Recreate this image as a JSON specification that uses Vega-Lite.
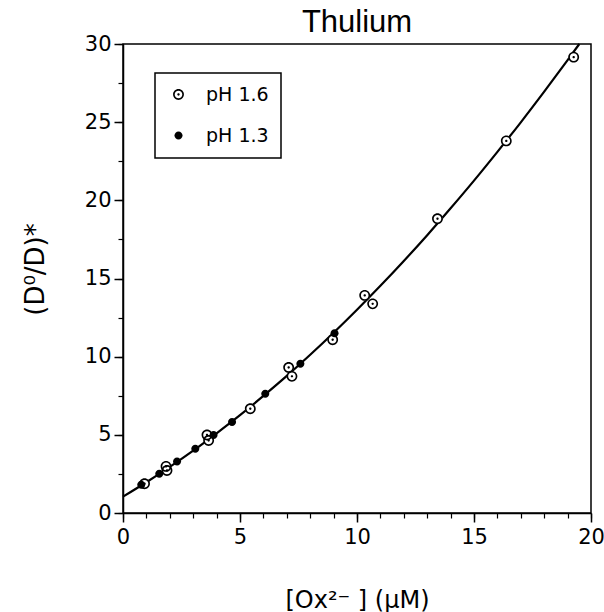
{
  "$schema": "https://vega.github.io/schema/vega-lite/v6.json",
  "width": 468,
  "height": 469,
  "autosize": "none",
  "padding": {"left": 123, "top": 44, "right": 13, "bottom": 99},
  "background": "white",
  "title": {"text": "Thulium", "font": "Liberation Sans", "fontSize": 31, "fontWeight": "normal", "color": "black", "anchor": "middle", "baseline": "bottom", "offset": 2, "dy": 39},
  "config": {
    "view": {"stroke": "black", "strokeWidth": 1.5},
    "axis": {"grid": false, "domainColor": "black", "tickColor": "black", "labelColor": "black", "titleColor": "black", "labelFont": "DejaVu Sans", "titleFont": "DejaVu Sans", "titleFontWeight": "normal"},
    "legend": {"strokeWidth": 1.5}
  },
  "datasets": {
    "curve": [
      {"x": 0, "y": 1.05}, {"x": 1, "y": 1.97}, {"x": 2, "y": 2.95}, {"x": 3, "y": 3.99},
      {"x": 4, "y": 5.1}, {"x": 5, "y": 6.26}, {"x": 6, "y": 7.49}, {"x": 7, "y": 8.77},
      {"x": 8, "y": 10.12}, {"x": 9, "y": 11.53}, {"x": 10, "y": 13.0}, {"x": 11, "y": 14.53},
      {"x": 12, "y": 16.12}, {"x": 13, "y": 17.77}, {"x": 14, "y": 19.49}, {"x": 15, "y": 21.26},
      {"x": 16, "y": 23.1}, {"x": 17, "y": 24.99}, {"x": 18, "y": 26.95}, {"x": 19, "y": 28.97},
      {"x": 19.5, "y": 30.0}
    ],
    "points": [
      {"series": "pH 1.3", "x": 0.78, "y": 1.81},
      {"series": "pH 1.3", "x": 1.55, "y": 2.51},
      {"series": "pH 1.3", "x": 2.31, "y": 3.3},
      {"series": "pH 1.3", "x": 3.09, "y": 4.11},
      {"series": "pH 1.3", "x": 3.87, "y": 4.99},
      {"series": "pH 1.3", "x": 4.66, "y": 5.82},
      {"series": "pH 1.3", "x": 6.08, "y": 7.63},
      {"series": "pH 1.3", "x": 7.58, "y": 9.55},
      {"series": "pH 1.3", "x": 9.04, "y": 11.5},
      {"series": "pH 1.6", "x": 0.92, "y": 1.87},
      {"series": "pH 1.6", "x": 1.88, "y": 2.72},
      {"series": "pH 1.6", "x": 1.84, "y": 2.98},
      {"series": "pH 1.6", "x": 3.59, "y": 4.99},
      {"series": "pH 1.6", "x": 3.66, "y": 4.64},
      {"series": "pH 1.6", "x": 5.44, "y": 6.67},
      {"series": "pH 1.6", "x": 7.08, "y": 9.31},
      {"series": "pH 1.6", "x": 7.22, "y": 8.74},
      {"series": "pH 1.6", "x": 8.96, "y": 11.08},
      {"series": "pH 1.6", "x": 10.33, "y": 13.92},
      {"series": "pH 1.6", "x": 10.67, "y": 13.38},
      {"series": "pH 1.6", "x": 13.44, "y": 18.82},
      {"series": "pH 1.6", "x": 16.38, "y": 23.8},
      {"series": "pH 1.6", "x": 19.26, "y": 29.16}
    ]
  },
  "resolve": {"axis": {"x": "independent", "y": "independent"}},
  "layer": [
    {
      "data": {"name": "curve"},
      "mark": {"type": "line", "color": "black", "strokeWidth": 2.2, "interpolate": "monotone"},
      "encoding": {
        "x": {"field": "x", "type": "quantitative", "scale": {"domain": [0, 20], "nice": false},
          "axis": {"orient": "bottom", "values": [0, 5, 10, 15, 20], "tickSize": 9, "tickWidth": 1.5, "domainWidth": 1.5, "labelFontSize": 21, "labelPadding": 4, "labelFlush": false,
            "title": "[Ox²⁻ ] (μM)", "titleFontSize": 24, "titleX": 234, "titleY": 94, "titleBaseline": "alphabetic", "titleAlign": "center"}},
        "y": {"field": "y", "type": "quantitative", "scale": {"domain": [0, 30], "nice": false},
          "axis": {"orient": "left", "values": [0, 5, 10, 15, 20, 25, 30], "tickSize": 9, "tickWidth": 1.5, "domainWidth": 1.5, "labelFontSize": 21, "labelPadding": 3, "labelFlush": false,
            "title": "(D⁰/D)*", "titleFontSize": 26, "titleX": -80, "titleY": 225, "titleAngle": 270, "titleBaseline": "alphabetic", "titleAlign": "center"}}
      }
    },
    {
      "data": {"name": "points"},
      "transform": [{"filter": "datum.series === 'pH 1.6'"}],
      "mark": {"type": "point", "shape": "circle", "filled": true, "color": "white", "opacity": 1, "size": 100},
      "encoding": {
        "x": {"field": "x", "type": "quantitative",
          "axis": {"orient": "bottom", "values": [0,1,2,3,4,5,6,7,8,9,10,11,12,13,14,15,16,17,18,19,20], "tickSize": 5, "tickWidth": 1.2, "domain": false, "labels": false, "title": null}},
        "y": {"field": "y", "type": "quantitative",
          "axis": {"orient": "left", "values": [0,2.5,5,7.5,10,12.5,15,17.5,20,22.5,25,27.5,30], "tickSize": 5, "tickWidth": 1.2, "domain": false, "labels": false, "title": null}}
      }
    },
    {
      "data": {"name": "points"},
      "mark": {"type": "point", "filled": true, "color": "black", "opacity": 1, "size": 118},
      "encoding": {
        "x": {"field": "x", "type": "quantitative", "axis": null},
        "y": {"field": "y", "type": "quantitative", "axis": null},
        "shape": {"field": "series", "type": "nominal",
          "scale": {"domain": ["pH 1.6", "pH 1.3"], "range": ["M1,0 C1,0.5523 0.5523,1 0,1 C-0.5523,1 -1,0.5523 -1,0 C-1,-0.5523 -0.5523,-1 0,-1 C0.5523,-1 1,-0.5523 1,0 Z M0.7,0 C0.7,-0.3866 0.3866,-0.7 0,-0.7 C-0.3866,-0.7 -0.7,-0.3866 -0.7,0 C-0.7,0.3866 -0.3866,0.7 0,0.7 C0.3866,0.7 0.7,0.3866 0.7,0 Z M0.22,0 C0.22,0.1215 0.1215,0.22 0,0.22 C-0.1215,0.22 -0.22,0.1215 -0.22,0 C-0.22,-0.1215 -0.1215,-0.22 0,-0.22 C0.1215,-0.22 0.22,-0.1215 0.22,0 Z", "M0.74,0 C0.74,0.4087 0.4087,0.74 0,0.74 C-0.4087,0.74 -0.74,0.4087 -0.74,0 C-0.74,-0.4087 -0.4087,-0.74 0,-0.74 C0.4087,-0.74 0.74,-0.4087 0.74,0 Z"]},
          "legend": {"title": null, "orient": "none", "legendX": 32, "legendY": 29, "strokeColor": "black", "padding": 12, "rowPadding": 21, "symbolOffset": 2, "labelOffset": 18, "labelFont": "DejaVu Sans", "labelFontSize": 19, "labelColor": "black", "symbolSize": 118, "symbolFillColor": "black", "symbolStrokeWidth": 0}}
      }
    }
  ]
}
